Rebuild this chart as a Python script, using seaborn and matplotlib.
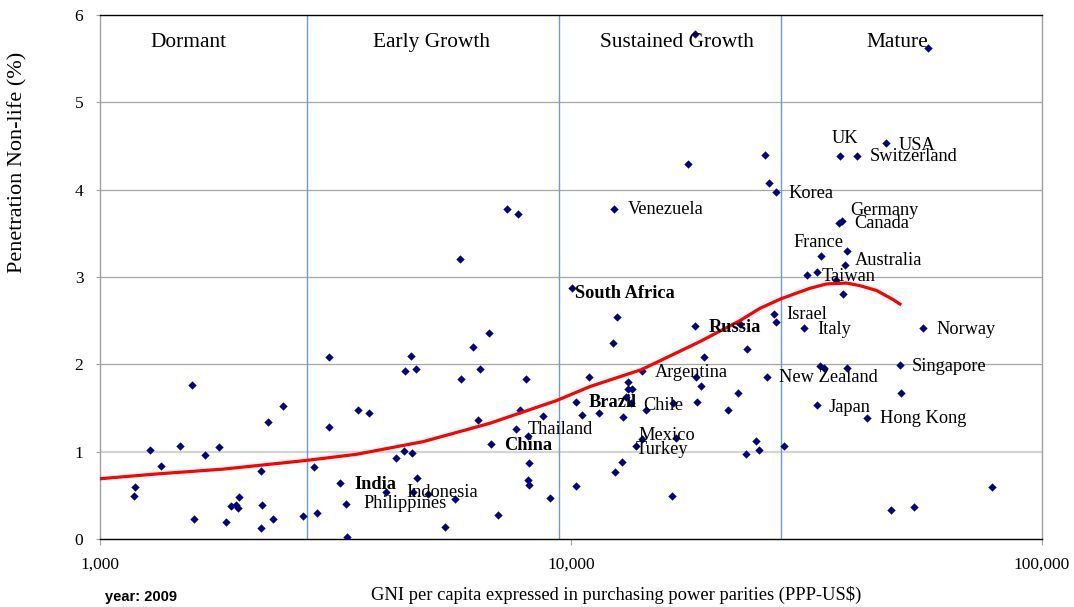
import matplotlib
matplotlib.use("Agg")
import matplotlib.pyplot as plt
import seaborn as sns
import pandas as pd

# GNI per capita (PPP-US$) and non-life penetration (%), 2009
gni = [1179, 1188, 1279, 1348, 1479, 1570, 1581, 1671, 1789, 1849, 1900, 1941,
       1960, 1976, 2197, 2197, 2208, 2270, 2333, 2447, 2704,
       2847, 2889, 3059, 3068, 3240, 3329, 3340, 3525, 3725, 4048, 4257, 4420,
       4442, 4567, 4589, 4611, 4694, 4710, 4964, 5409, 5680, 5821, 5841, 6183,
       6355, 6398, 6697, 6762, 6987, 7311, 7629, 7703, 7803, 8035, 8102, 8130,
       8113, 8154, 8734, 9024,
       10049, 10247, 10247, 10536, 10935, 11484, 12283, 12360, 12385, 12543,
       12853, 12897, 13088, 13236, 13236, 13497, 13410, 13740, 14128, 14128,
       14427, 16409, 16490, 16684, 17692, 18303, 18358, 18422, 18511, 18880,
       19160, 21580, 22590, 22850, 23560, 23610, 24740, 25110, 25820, 26030,
       26330, 27020, 27290, 27290,
       28400, 31280, 31650, 33330, 33280, 33780, 34450, 33940, 36510, 37000,
       37550, 37240, 37740, 38220, 38550, 38550, 40430, 42570, 46650, 47800,
       49880, 50120, 53420, 55980, 57290, 78200]
penetration = [0.49, 0.60, 1.02, 0.84, 1.06, 1.76, 0.23, 0.96, 1.05, 0.20, 0.38, 0.39,
               0.36, 0.48, 0.78, 0.13, 0.39, 1.34, 0.23, 1.52, 0.26,
               0.82, 0.30, 1.28, 2.08, 0.64, 0.40, 0.02, 1.48, 1.44, 0.54, 0.93, 1.01,
               1.92, 2.10, 0.99, 0.54, 1.95, 0.70, 0.52, 0.14, 0.46, 3.21, 1.83, 2.20,
               1.36, 1.95, 2.36, 1.09, 0.28, 3.78, 1.26, 3.72, 1.48, 1.83, 1.18, 0.87,
               0.68, 0.62, 1.41, 0.47,
               2.87, 1.57, 0.61, 1.42, 1.86, 1.44, 2.24, 3.78, 0.77, 2.54,
               0.88, 1.40, 1.63, 1.80, 1.72, 1.72, 1.56, 1.07, 1.14, 1.92,
               1.48, 0.49, 1.56, 1.16, 4.29, 5.78, 2.44, 1.86, 1.57, 1.75,
               2.08, 1.48, 1.67, 2.46, 0.97, 2.18, 1.12, 1.02, 4.40, 1.86,
               4.08, 2.58, 2.48, 3.97,
               1.06, 2.42, 3.02, 3.06, 1.53, 1.98, 1.96, 3.24, 2.97, 3.62,
               3.64, 4.38, 2.81, 3.14, 3.30, 1.96, 4.38, 1.39, 4.53, 0.33,
               1.99, 1.67, 0.37, 2.42, 5.62, 0.60]

# trend curve
curve_gni = [1000, 1320, 1827, 2748, 3508, 4858, 6730, 9324, 10974, 14130,
             18790, 22850, 25190, 27920, 32170, 34910, 38490, 41080, 44570,
             48340, 49940]
curve_pen = [0.69, 0.745, 0.80, 0.90, 0.97, 1.115, 1.325, 1.585, 1.745, 1.94,
             2.26, 2.50, 2.64, 2.75, 2.87, 2.92, 2.93, 2.90, 2.845,
             2.74, 2.69]

# country labels
label_names = ["Venezuela", "Korea", "UK", "USA", "Switzerland", "Germany", "Canada",
               "France", "Australia", "Taiwan", "Israel", "Italy", "Norway",
               "Singapore", "New Zealand", "Japan", "Hong Kong", "South Africa",
               "Russia", "Argentina", "Brazil", "Chile", "Mexico", "Turkey",
               "Thailand", "China", "India", "Philippines", "Indonesia"]
label_x = [13196, 29030, 35830, 49700, 43130, 39250, 39890, 29710, 40090, 34050,
           28710, 33400, 59570, 52970, 27650, 35300, 45290, 10200, 19630, 15060,
           10920, 14220, 13940, 13740, 8102, 7205, 3462, 3617, 4464]
label_y = [3.77, 3.95, 4.59, 4.51, 4.38, 3.765, 3.616, 3.394, 3.19, 3.005, 2.566,
           2.40, 2.397, 1.98, 1.844, 1.51, 1.383, 2.806, 2.42, 1.91, 1.566, 1.527,
           1.183, 1.02, 1.25, 1.065, 0.62, 0.41, 0.527]
label_bold = ["South Africa", "Russia", "Brazil", "China", "India"]

# development phases
phase_names = ["Dormant", "Early Growth", "Sustained Growth", "Mature"]
phase_centers = [1543, 5051, 16770, 49220]
phase_bounds = [2750, 9420, 27900]

xtick_values = [1000, 10000, 100000]
xtick_labels = ["1,000", "10,000", "100,000"]
ytick_values = [0, 1, 2, 3, 4, 5, 6]

serif = "Liberation Serif"
plt.rcParams["font.family"] = serif

fig = plt.figure(figsize=(10.74, 6.07), dpi=100)
ax = fig.add_axes([0.0931, 0.112, 0.877, 0.8635])

ax.set_xscale("log")
ax.set_xlim(1000, 100000)
ax.set_ylim(0, 6)

# horizontal gridlines
for v in ytick_values[1:-1]:
    if v == 1:
        ax.axhline(v, color="#d4d4d4", lw=1.6, zorder=0)
    else:
        ax.axhline(v, color="#a6a6a6", lw=0.9, zorder=0)

for b in phase_bounds:
    ax.axvline(b, color="#6a9ad8", lw=1.0, zorder=1)

df = pd.DataFrame({"gni": gni, "pen": penetration})
sns.scatterplot(data=df, x="gni", y="pen", marker="D", color="#000080",
                s=18, linewidth=0, ax=ax, zorder=3)

curve = pd.DataFrame({"gni": curve_gni, "pen": curve_pen})
sns.lineplot(data=curve, x="gni", y="pen", color="#ff0000", lw=2.3, sort=False,
             ax=ax, zorder=4)

for name, x, y in zip(label_names, label_x, label_y):
    ax.text(x, y, name, ha="left", va="center", fontsize=13.2,
            fontweight="bold" if name in label_bold else "normal", zorder=5)

for name, x in zip(phase_names, phase_centers):
    ax.text(x, 5.68, name, ha="center", va="center", fontsize=15.4, zorder=5)

ax.set_xticks(xtick_values)
ax.set_xticklabels(xtick_labels)
ax.xaxis.set_minor_locator(matplotlib.ticker.NullLocator())
ax.set_yticks(ytick_values)
ax.tick_params(axis="x", labelsize=12.5, length=4, color="#a0a0a0", pad=9)
ax.tick_params(axis="y", labelsize=12.5, length=3, color="#a0a0a0", pad=9)

ax.spines["top"].set_color("#000000")
ax.spines["bottom"].set_color("#000000")
ax.spines["left"].set_color("#a0a0a0")
ax.spines["right"].set_color("#a0a0a0")
for s in ax.spines.values():
    s.set_linewidth(1.0)

ax.set_xlabel("GNI per capita expressed in purchasing power parities (PPP-US$)",
              fontsize=13.3)
ax.xaxis.set_label_coords(0.548, -0.089)
ax.set_ylabel("Penetration Non-life (%)", fontsize=16)
ax.yaxis.set_label_coords(-0.077, 0.7195)

fig.text(105 / 1074, 1 - 597 / 607, "year: 2009", ha="left", va="center",
         fontsize=10.5, fontweight="bold", family="Liberation Sans")

fig.savefig("out.png", dpi=100)
